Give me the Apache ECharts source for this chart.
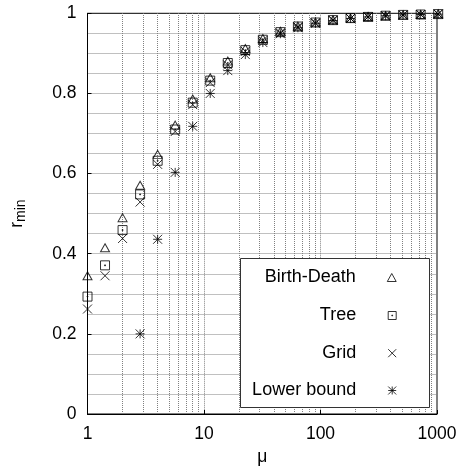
<!DOCTYPE html>
<html>
<head>
<meta charset="utf-8">
<script src="https://cdn.jsdelivr.net/npm/echarts@6/dist/echarts.min.js"></script>
<style>html,body{margin:0;padding:0;background:#fff}#c{width:466px;height:473px}</style>
</head>
<body>
<div id="c"></div>
<script>
// ---- data ----
var mu = [1, 1.414, 2, 2.828, 4, 5.657, 8, 11.31, 16, 22.63, 32, 45.25, 64, 90.51, 128, 181.0, 256, 362.0, 512, 724.1, 1024];
var birthDeath = [0.345, 0.415, 0.49, 0.571, 0.648, 0.721, 0.786, 0.839, 0.881, 0.912, 0.937, 0.955, 0.968, 0.978, 0.984, 0.988, 0.992, 0.994, 0.996, 0.997, 0.999];
var tree = [0.293, 0.371, 0.459, 0.548, 0.632, 0.71, 0.777, 0.832, 0.876, 0.908, 0.934, 0.953, 0.967, 0.977, 0.983, 0.988, 0.991, 0.994, 0.996, 0.997, 0.998];
var gridS = [0.262, 0.345, 0.438, 0.529, 0.623, 0.705, 0.772, 0.827, 0.871, 0.905, 0.932, 0.951, 0.966, 0.976, 0.983, 0.987, 0.991, 0.993, 0.995, 0.997, 0.998];
var muLB = [2.828, 4, 5.657, 8, 11.31, 16, 22.63, 32, 45.25, 64, 90.51, 128, 181.0, 256, 362.0, 512, 724.1, 1024];
var lowerBound = [0.2, 0.436, 0.603, 0.718, 0.8, 0.857, 0.897, 0.927, 0.949, 0.964, 0.975, 0.982, 0.987, 0.991, 0.994, 0.996, 0.997, 0.998];
var seriesNames = ['Birth-Death', 'Tree', 'Grid', 'Lower bound'];
var minorXTicks = [2, 3, 4, 5, 6, 7, 8, 9, 20, 30, 40, 50, 60, 70, 80, 90, 200, 300, 400, 500, 600, 700, 800, 900];

// ---- helpers ----
function pairs(xs, ys) { return xs.map(function (x, i) { return [x, ys[i]]; }); }
var FONT = 'Liberation Sans, Arial, Helvetica, sans-serif';
var GRIDLINE = { color: '#808080', type: [1, 1], width: 1 };
var symTri = 'path://M5 0 L10 9 L0 9 Z';
var symSq = 'path://M0 0 L10 0 L10 10 L0 10 Z M4.5 4.5 L5.5 4.5 L5.5 5.5 L4.5 5.5 Z';
var symX = 'path://M0 0 L10 10 M10 0 L0 10';
var symAst = 'path://M0 0 L10 10 M10 0 L0 10 M5 0 L5 10 M0 5 L10 5';
var markerStyle = { color: 'rgba(0,0,0,0)', borderColor: '#000', borderWidth: 1 };

function mkSeries(name, data, sym, size, extra) {
  var s = {
    name: name, type: 'scatter', data: data, symbol: sym, symbolSize: size,
    itemStyle: markerStyle, clip: false, z: 5,
    emphasis: { disabled: true }
  };
  if (extra) for (var k in extra) s[k] = extra[k];
  return s;
}

var legendCenters = [276, 314, 351.7, 389];
var legends = seriesNames.map(function (n, i) {
  return {
    data: [n], orient: 'horizontal', align: 'right', right: 69.3,
    top: legendCenters[i] - 7.5, padding: 0,
    itemWidth: 62, itemHeight: 8, selectedMode: false,
    itemStyle: { borderWidth: 1, borderColor: '#000', color: 'rgba(0,0,0,0)' },
    textStyle: { fontFamily: FONT, fontSize: 18, color: '#000' }
  };
});

var chart = echarts.init(document.getElementById('c'), null, { renderer: 'canvas' });
chart.setOption({
  animation: false,
  backgroundColor: '#fff',
  grid: { left: 82.3, right: 29, top: 13.3, bottom: 59, show: true, borderColor: '#000', borderWidth: 1, backgroundColor: 'transparent' },
  legend: legends,
  graphic: [{
    type: 'rect', z: 3, silent: true,
    shape: { x: 240.5, y: 258.5, width: 189, height: 149 },
    style: { fill: '#fff', stroke: '#333', lineWidth: 1 }
  }],
  xAxis: {
    type: 'log', logBase: 10, min: 1, max: 1000,
    name: 'μ', nameLocation: 'middle', nameGap: 29,
    nameTextStyle: { fontFamily: FONT, fontSize: 17.5, color: '#000' },
    axisLine: { show: true, lineStyle: { color: '#000', width: 1 } },
    axisTick: { show: true, inside: true, length: 4, lineStyle: { color: '#000' } },
    axisLabel: { fontFamily: FONT, fontSize: 17.5, color: '#000', margin: 11,
      formatter: function (v) { return String(Math.round(v)); } },
    splitLine: { show: true, showMinLine: false, showMaxLine: false, lineStyle: GRIDLINE }
  },
  yAxis: {
    type: 'value', min: 0, max: 1, interval: 0.2,
    name: '{r|r}{s|min}', nameLocation: 'middle', nameGap: 59, nameRotate: 90,
    nameTextStyle: {
      fontFamily: FONT, color: '#000',
      rich: {
        r: { fontFamily: FONT, fontSize: 17.5, lineHeight: 23, color: '#000' },
        s: { fontFamily: FONT, fontSize: 14, lineHeight: 14, verticalAlign: 'bottom', color: '#000' }
      }
    },
    axisLine: { show: true, lineStyle: { color: '#000', width: 1 } },
    axisTick: { show: true, inside: true, length: 4, lineStyle: { color: '#000' } },
    axisLabel: { fontFamily: FONT, fontSize: 17.5, color: '#000', margin: 11 },
    splitLine: { show: true, showMinLine: false, showMaxLine: false, lineStyle: GRIDLINE },
    minorTick: { show: false, splitNumber: 4 },
    minorSplitLine: { show: true, lineStyle: GRIDLINE }
  },
  series: [
    mkSeries(seriesNames[0], pairs(mu, birthDeath), symTri, [9, 8], {
      markLine: {
        silent: true, symbol: 'none', label: { show: false }, z: 1,
        lineStyle: GRIDLINE, emphasis: { disabled: true },
        data: minorXTicks.map(function (v) { return { xAxis: v }; })
      }
    }),
    mkSeries(seriesNames[1], pairs(mu, tree), symSq, [9, 9]),
    mkSeries(seriesNames[2], pairs(mu, gridS), symX, [9, 9]),
    mkSeries(seriesNames[3], pairs(muLB, lowerBound), symAst, [9, 9])
  ]
});
</script>
</body>
</html>
